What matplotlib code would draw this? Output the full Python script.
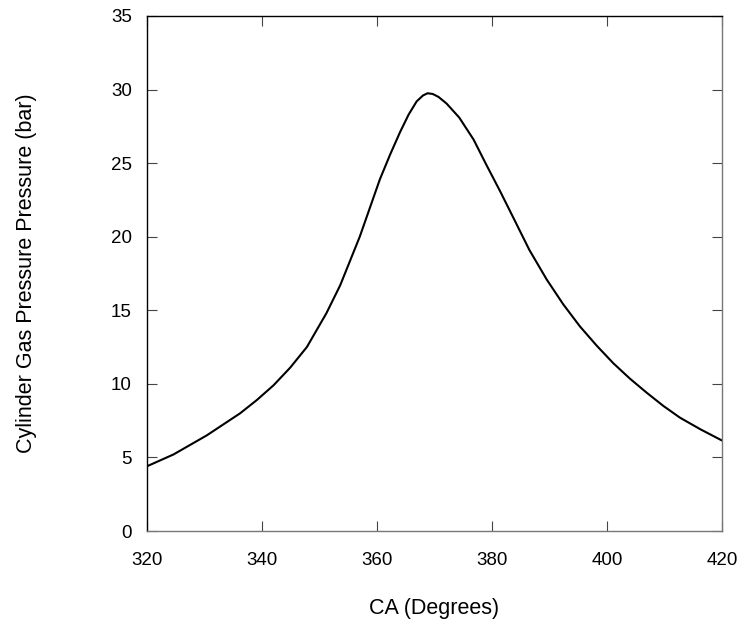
import matplotlib.pyplot as plt

plt.rcParams['font.family'] = ['Liberation Sans', 'DejaVu Sans']

# values
ca = [320, 324.6, 327.5, 330.4, 333.3, 336.2, 339.1, 342, 344.9, 347.8,
      351.2, 353.6, 357.0, 360.5, 362.3, 364.0, 365.5, 366.9, 368.0,
      368.8, 369.7, 370.7, 372.1, 374.3, 376.8, 379.0, 381.4, 383.7,
      386.5, 389.5, 392.4, 395.3, 398.2, 401.1, 404.0, 406.9, 409.8,
      412.7, 416.3, 420]
pressure = [4.4, 5.2, 5.85, 6.5, 7.25, 8.0, 8.9, 9.9, 11.1, 12.5,
            14.8, 16.7, 20.0, 23.9, 25.6, 27.1, 28.3, 29.2, 29.6,
            29.75, 29.7, 29.5, 29.05, 28.1, 26.6, 24.9, 23.1, 21.3,
            19.1, 17.1, 15.4, 13.9, 12.6, 11.4, 10.35, 9.4, 8.5,
            7.7, 6.9, 6.15]

xticks = [320, 340, 360, 380, 400, 420]
yticks = [0, 5, 10, 15, 20, 25, 30, 35]

fig = plt.figure(figsize=(7.41, 6.22), dpi=100)
ax = fig.add_axes([147/741, 91/622, 575/741, 515/622])

ax.plot(ca, pressure, color='black', lw=1.5)

ax.set_xlim(320, 420)
ax.set_ylim(0, 35)
ax.set_xticks(xticks)
ax.set_yticks(yticks)
ax.tick_params(direction='in', length=7.5, width=0.8, top=True, right=True,
               labelsize=13.5, colors='#444444', labelcolor='black')
ax.tick_params(axis='x', pad=15)
ax.tick_params(axis='y', pad=11)

for side in ['left', 'top']:
    ax.spines[side].set_color('black')
for side in ['bottom', 'right']:
    ax.spines[side].set_color('#777777')
for s in ax.spines.values():
    s.set_linewidth(1.0)

ax.set_xlabel('CA (Degrees)', fontsize=15.5, labelpad=21)
ax.set_ylabel('Cylinder Gas Pressure Pressure (bar)', fontsize=15.5, labelpad=53)

fig.savefig('out.png', dpi=100)
